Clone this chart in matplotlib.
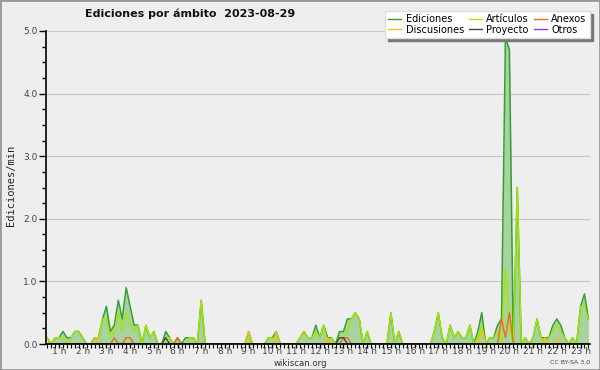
import numpy as np
import matplotlib
matplotlib.use("Agg")
import matplotlib.pyplot as plt
from matplotlib.patches import Rectangle

# 10 minute samples, first one at 0:30
start_hour = 0.5
step_hour = 1 / 6

ediciones = [0.1, 0.0, 0.1, 0.1, 0.2, 0.1, 0.1, 0.2, 0.2, 0.1, 0.0, 0.0,
             0.1, 0.1, 0.4, 0.6, 0.2, 0.3, 0.7, 0.4, 0.9, 0.6, 0.3, 0.3,
             0.0, 0.3, 0.1, 0.2, 0.0, 0.0, 0.2, 0.1, 0.0, 0.1, 0.0, 0.1,
             0.1, 0.1, 0.0, 0.7, 0.0, 0.0, 0.0, 0.0, 0.0, 0.0, 0.0, 0.0,
             0.0, 0.0, 0.0, 0.2, 0.0, 0.0, 0.0, 0.0, 0.1, 0.1, 0.2, 0.0,
             0.0, 0.0, 0.0, 0.0, 0.1, 0.2, 0.1, 0.1, 0.3, 0.1, 0.3, 0.1,
             0.1, 0.0, 0.2, 0.2, 0.4, 0.4, 0.5, 0.4, 0.0, 0.2, 0.0, 0.0,
             0.0, 0.0, 0.0, 0.5, 0.0, 0.2, 0.0, 0.0, 0.0, 0.0, 0.0, 0.0,
             0.0, 0.0, 0.2, 0.5, 0.1, 0.0, 0.3, 0.1, 0.2, 0.1, 0.1, 0.3,
             0.0, 0.2, 0.5, 0.0, 0.1, 0.1, 0.3, 0.4, 4.9, 4.7, 0.0, 2.5,
             0.0, 0.1, 0.0, 0.1, 0.4, 0.1, 0.1, 0.1, 0.3, 0.4, 0.3, 0.1,
             0.0, 0.1, 0.0, 0.6, 0.8, 0.4]

articulos = [0.1, 0.0, 0.1, 0.1, 0.1, 0.0, 0.1, 0.2, 0.2, 0.1, 0.0, 0.0,
             0.0, 0.1, 0.4, 0.4, 0.1, 0.2, 0.5, 0.2, 0.5, 0.3, 0.2, 0.3,
             0.0, 0.3, 0.1, 0.2, 0.0, 0.0, 0.1, 0.1, 0.0, 0.0, 0.0, 0.0,
             0.1, 0.1, 0.0, 0.7, 0.0, 0.0, 0.0, 0.0, 0.0, 0.0, 0.0, 0.0,
             0.0, 0.0, 0.0, 0.1, 0.0, 0.0, 0.0, 0.0, 0.1, 0.1, 0.1, 0.0,
             0.0, 0.0, 0.0, 0.0, 0.1, 0.2, 0.1, 0.1, 0.2, 0.1, 0.3, 0.0,
             0.1, 0.0, 0.1, 0.1, 0.2, 0.4, 0.5, 0.4, 0.0, 0.2, 0.0, 0.0,
             0.0, 0.0, 0.0, 0.5, 0.0, 0.2, 0.0, 0.0, 0.0, 0.0, 0.0, 0.0,
             0.0, 0.0, 0.2, 0.5, 0.1, 0.0, 0.3, 0.1, 0.2, 0.1, 0.1, 0.3,
             0.0, 0.1, 0.3, 0.0, 0.1, 0.1, 0.2, 0.0, 1.2, 0.3, 0.0, 2.5,
             0.0, 0.1, 0.0, 0.1, 0.4, 0.1, 0.0, 0.1, 0.2, 0.3, 0.2, 0.1,
             0.0, 0.1, 0.0, 0.6, 0.6, 0.4]

# sparse series: sample index -> value
discusiones = {12: 0.1, 13: 0.1, 51: 0.2, 58: 0.2, 71: 0.1, 110: 0.2, 126: 0.1, 129: 0.1}
anexos = {17: 0.1, 20: 0.1, 21: 0.1, 33: 0.1, 75: 0.1, 76: 0.1, 115: 0.4, 116: 0.1, 117: 0.5}
proyecto = {30: 0.1, 74: 0.1, 75: 0.1}
otros = {}

hour_labels = ["%d h" % h for h in range(1, 24)]

n = len(ediciones)
hours = start_hour + step_hour * np.arange(n)


def expand(d):
    arr = np.zeros(n)
    for k, v in d.items():
        arr[k] = v
    return arr


bg = "#eeeeee"
fig = plt.figure(figsize=(6, 3.7), dpi=100, facecolor=bg)
ax = fig.add_axes([46 / 600, 1 - 344 / 370, 544 / 600, 313 / 370])
ax.set_facecolor(bg)

ax.fill_between(hours, ediciones, color="#a6d3a0", lw=0, zorder=2)
ax.plot(hours, ediciones, color="#34a034", lw=1.1, zorder=3, label="Ediciones")
ax.plot(hours, articulos, color="#a8e600", lw=1, zorder=4, label="Artículos")
ax.plot(hours, expand(anexos), color="#ee6a22", lw=1, zorder=5, label="Anexos")
ax.plot(hours, expand(discusiones), color="#f0c020", lw=1, zorder=5, label="Discusiones")
ax.plot(hours, expand(proyecto), color="#444444", lw=1, zorder=5, label="Proyecto")
ax.plot(hours, expand(otros), color="#9040e0", lw=1, zorder=1, label="Otros")

ax.set_xlim(0.45, 23.4)
ax.set_ylim(0, 5.0)

ax.set_yticks(np.arange(0, 5.01, 1.0))
ax.set_yticklabels(["%.1f" % v for v in np.arange(0, 5.01, 1.0)])
ax.set_yticks(np.arange(0, 5.01, 0.25), minor=True)
ax.set_xticks(range(1, 24))
ax.set_xticklabels(hour_labels)
ax.set_xticks(np.arange(0.5, 23.41, 1 / 6), minor=True)

ax.tick_params(axis="y", which="major", length=5, width=1, labelsize=6.5,
               labelcolor="#444444", pad=1)
ax.tick_params(axis="y", which="minor", length=3, width=1)
ax.tick_params(axis="x", which="major", length=3, width=1, labelsize=6.5,
               labelcolor="#444444", pad=-0.5)
ax.tick_params(axis="x", which="minor", length=3, width=0.8)

ax.grid(axis="y", which="major", color="#c8c8c8", lw=0.8, zorder=0)
for s in ["top", "right"]:
    ax.spines[s].set_visible(False)
for s in ["left", "bottom"]:
    ax.spines[s].set_color("black")
    ax.spines[s].set_linewidth(1.2)
    ax.spines[s].set_zorder(10)

fig.text(11 / 600, 1 - 185 / 370, "Ediciones/min", rotation=90, ha="center",
         va="center", fontsize=7.5, family="DejaVu Sans Mono", color="#222222")
fig.text(85 / 600, 1 - 14 / 370, "Ediciones por ámbito  2023-08-29",
         ha="left", va="center", fontsize=8, fontweight="bold", color="#111111")
fig.text(300 / 600, 1 - 364 / 370, "wikiscan.org", ha="center", va="center",
         fontsize=6.2, color="#333333")
fig.text(590 / 600, 1 - 363 / 370, "CC BY-SA 3.0", ha="right", va="center",
         fontsize=4.5, color="#444444")

handles, labels = ax.get_legend_handles_labels()
order = ["Ediciones", "Discusiones", "Artículos", "Proyecto", "Anexos", "Otros"]
hmap = dict(zip(labels, handles))
leg = fig.legend([hmap[k] for k in order], order, ncol=3, loc="upper right",
                 bbox_to_anchor=(592 / 600, 1 - 9 / 370), fontsize=7,
                 frameon=True, fancybox=False, framealpha=1, edgecolor="#dddddd",
                 shadow={"color": "#777777", "alpha": 1}, handlelength=1.3,
                 handletextpad=0.5, columnspacing=0.5, labelspacing=0.05,
                 borderpad=0.35, borderaxespad=0.2)
for line in leg.get_lines():
    line.set_linewidth(1)

fig.add_artist(Rectangle((0, 0), 1, 1, transform=fig.transFigure, fill=False,
                         edgecolor="#999999", lw=2))

fig.savefig("out.png", dpi=100, facecolor=bg)
